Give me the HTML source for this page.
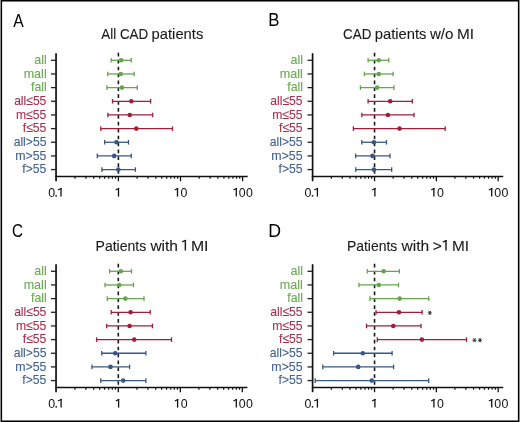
<!DOCTYPE html>
<html><head><meta charset="utf-8"><style>
html,body{margin:0;padding:0;background:#fff;}
body{width:520px;height:422px;position:relative;overflow:hidden;font-family:"Liberation Sans", sans-serif;}
svg{position:absolute;left:0;top:0;will-change:transform;}
svg text{font-family:"Liberation Sans", sans-serif;}
</style></head><body>
<svg width="520" height="422" viewBox="0 0 520 422">
<rect x="0" y="0" width="520" height="422" fill="#fff"/>
<rect x="1" y="0" width="1" height="422" fill="#000"/>
<rect x="518" y="0" width="1" height="422" fill="#000"/>
<rect x="1" y="0" width="518" height="1" fill="#000"/>
<rect x="2" y="1" width="516" height="1" fill="#777"/>
<rect x="1" y="421" width="518" height="1" fill="#000"/>
<rect x="2" y="420" width="516" height="1" fill="#777"/>
<rect x="0" y="0" width="1" height="422" fill="#8c8c8c"/>
<rect x="519" y="0" width="1" height="422" fill="#8c8c8c"/>
<rect x="2" y="2" width="1" height="418" fill="#e2e2e2"/>
<rect x="517" y="2" width="1" height="418" fill="#e2e2e2"/>
<line x1="118.40" y1="52.85" x2="118.40" y2="176.50" stroke="#1a1a1a" stroke-width="1.6" stroke-dasharray="3.7 3.2"/>
<line x1="56.05" y1="53.20" x2="56.05" y2="181.20" stroke="#111" stroke-width="1.7"/>
<line x1="55.25" y1="176.50" x2="247.70" y2="176.50" stroke="#111" stroke-width="1.5"/>
<line x1="50.95" y1="60.30" x2="56.05" y2="60.30" stroke="#222" stroke-width="1.3"/>
<line x1="50.95" y1="73.96" x2="56.05" y2="73.96" stroke="#222" stroke-width="1.3"/>
<line x1="50.95" y1="87.62" x2="56.05" y2="87.62" stroke="#222" stroke-width="1.3"/>
<line x1="50.95" y1="101.28" x2="56.05" y2="101.28" stroke="#222" stroke-width="1.3"/>
<line x1="50.95" y1="114.94" x2="56.05" y2="114.94" stroke="#222" stroke-width="1.3"/>
<line x1="50.95" y1="128.60" x2="56.05" y2="128.60" stroke="#222" stroke-width="1.3"/>
<line x1="50.95" y1="142.26" x2="56.05" y2="142.26" stroke="#222" stroke-width="1.3"/>
<line x1="50.95" y1="155.92" x2="56.05" y2="155.92" stroke="#222" stroke-width="1.3"/>
<line x1="50.95" y1="169.58" x2="56.05" y2="169.58" stroke="#222" stroke-width="1.3"/>
<line x1="74.99" y1="176.50" x2="74.99" y2="178.70" stroke="#111" stroke-width="1.2"/>
<line x1="85.93" y1="176.50" x2="85.93" y2="178.70" stroke="#111" stroke-width="1.2"/>
<line x1="93.69" y1="176.50" x2="93.69" y2="178.70" stroke="#111" stroke-width="1.2"/>
<line x1="99.71" y1="176.50" x2="99.71" y2="178.70" stroke="#111" stroke-width="1.2"/>
<line x1="104.62" y1="176.50" x2="104.62" y2="178.70" stroke="#111" stroke-width="1.2"/>
<line x1="108.78" y1="176.50" x2="108.78" y2="178.70" stroke="#111" stroke-width="1.2"/>
<line x1="112.38" y1="176.50" x2="112.38" y2="178.70" stroke="#111" stroke-width="1.2"/>
<line x1="115.56" y1="176.50" x2="115.56" y2="178.70" stroke="#111" stroke-width="1.2"/>
<line x1="137.09" y1="176.50" x2="137.09" y2="178.70" stroke="#111" stroke-width="1.2"/>
<line x1="148.03" y1="176.50" x2="148.03" y2="178.70" stroke="#111" stroke-width="1.2"/>
<line x1="155.79" y1="176.50" x2="155.79" y2="178.70" stroke="#111" stroke-width="1.2"/>
<line x1="161.81" y1="176.50" x2="161.81" y2="178.70" stroke="#111" stroke-width="1.2"/>
<line x1="166.72" y1="176.50" x2="166.72" y2="178.70" stroke="#111" stroke-width="1.2"/>
<line x1="170.88" y1="176.50" x2="170.88" y2="178.70" stroke="#111" stroke-width="1.2"/>
<line x1="174.48" y1="176.50" x2="174.48" y2="178.70" stroke="#111" stroke-width="1.2"/>
<line x1="177.66" y1="176.50" x2="177.66" y2="178.70" stroke="#111" stroke-width="1.2"/>
<line x1="199.19" y1="176.50" x2="199.19" y2="178.70" stroke="#111" stroke-width="1.2"/>
<line x1="210.13" y1="176.50" x2="210.13" y2="178.70" stroke="#111" stroke-width="1.2"/>
<line x1="217.89" y1="176.50" x2="217.89" y2="178.70" stroke="#111" stroke-width="1.2"/>
<line x1="223.91" y1="176.50" x2="223.91" y2="178.70" stroke="#111" stroke-width="1.2"/>
<line x1="228.82" y1="176.50" x2="228.82" y2="178.70" stroke="#111" stroke-width="1.2"/>
<line x1="232.98" y1="176.50" x2="232.98" y2="178.70" stroke="#111" stroke-width="1.2"/>
<line x1="236.58" y1="176.50" x2="236.58" y2="178.70" stroke="#111" stroke-width="1.2"/>
<line x1="239.76" y1="176.50" x2="239.76" y2="178.70" stroke="#111" stroke-width="1.2"/>
<line x1="118.40" y1="176.50" x2="118.40" y2="181.20" stroke="#111" stroke-width="1.3"/>
<line x1="180.50" y1="176.50" x2="180.50" y2="181.20" stroke="#111" stroke-width="1.3"/>
<line x1="242.60" y1="176.50" x2="242.60" y2="181.20" stroke="#111" stroke-width="1.3"/>
<text x="48.17" y="196.60" font-size="12.4" fill="#111">0</text><rect x="55.35" y="195.10" width="1.5" height="1.5" fill="#111"/><line x1="61.00" y1="188.05" x2="61.00" y2="196.60" stroke="#111" stroke-width="1.3"/><line x1="61.20" y1="188.40" x2="58.30" y2="189.75" stroke="#111" stroke-width="1.15" stroke-linecap="round"/><line x1="118.50" y1="188.05" x2="118.50" y2="196.60" stroke="#111" stroke-width="1.3"/><line x1="118.70" y1="188.40" x2="116.10" y2="189.75" stroke="#111" stroke-width="1.15" stroke-linecap="round"/><line x1="177.50" y1="188.05" x2="177.50" y2="196.60" stroke="#111" stroke-width="1.3"/><line x1="177.70" y1="188.40" x2="175.20" y2="189.75" stroke="#111" stroke-width="1.15" stroke-linecap="round"/><text x="180.57" y="196.60" font-size="12.4" fill="#111">0</text><line x1="236.30" y1="188.05" x2="236.30" y2="196.60" stroke="#111" stroke-width="1.3"/><line x1="236.50" y1="188.40" x2="233.90" y2="189.75" stroke="#111" stroke-width="1.15" stroke-linecap="round"/><text x="238.87" y="196.60" font-size="12.4" fill="#111">0</text><text x="246.02" y="196.60" font-size="12.4" fill="#111">0</text>
<text x="101.30" y="39.20" font-size="14.60" fill="#1a1a1a" textLength="46.93" lengthAdjust="spacingAndGlyphs" stroke="#1a1a1a" stroke-width="0.1">All CAD</text>
<text x="151.59" y="39.20" font-size="14.60" fill="#1a1a1a" textLength="51.71" lengthAdjust="spacingAndGlyphs" stroke="#1a1a1a" stroke-width="0.1">patients</text>
<text x="13.20" y="26.60" font-size="18.10" fill="#000" textLength="10.49" lengthAdjust="spacingAndGlyphs">A</text>
<text x="34.22" y="63.95" font-size="13.10" fill="#6aa952" textLength="12.56" lengthAdjust="spacingAndGlyphs" stroke="#6aa952" stroke-width="0.1">all</text>
<text x="23.63" y="77.61" font-size="13.10" fill="#6aa952" textLength="23.08" lengthAdjust="spacingAndGlyphs" stroke="#6aa952" stroke-width="0.1">mall</text>
<text x="31.01" y="91.27" font-size="13.10" fill="#6aa952" textLength="15.76" lengthAdjust="spacingAndGlyphs" stroke="#6aa952" stroke-width="0.1">fall</text>
<text x="14.14" y="104.93" font-size="13.10" fill="#a5304d" textLength="32.23" lengthAdjust="spacingAndGlyphs" stroke="#a5304d" stroke-width="0.1">all≤55</text>
<text x="15.96" y="118.59" font-size="13.10" fill="#a5304d" textLength="30.44" lengthAdjust="spacingAndGlyphs" stroke="#a5304d" stroke-width="0.1">m≤55</text>
<text x="22.81" y="132.25" font-size="13.10" fill="#a5304d" textLength="23.56" lengthAdjust="spacingAndGlyphs" stroke="#a5304d" stroke-width="0.1">f≤55</text>
<text x="13.64" y="145.91" font-size="13.10" fill="#41618f" textLength="32.79" lengthAdjust="spacingAndGlyphs" stroke="#41618f" stroke-width="0.1">all&gt;55</text>
<text x="15.14" y="159.57" font-size="13.10" fill="#41618f" textLength="31.31" lengthAdjust="spacingAndGlyphs" stroke="#41618f" stroke-width="0.1">m&gt;55</text>
<text x="22.31" y="173.23" font-size="13.10" fill="#41618f" textLength="24.12" lengthAdjust="spacingAndGlyphs" stroke="#41618f" stroke-width="0.1">f&gt;55</text>
<line x1="111.20" y1="60.30" x2="131.30" y2="60.30" stroke="#67a54c" stroke-width="1.3"/>
<line x1="111.20" y1="58.00" x2="111.20" y2="62.60" stroke="#67a54c" stroke-width="1.3"/>
<line x1="131.30" y1="58.00" x2="131.30" y2="62.60" stroke="#67a54c" stroke-width="1.3"/>
<circle cx="121.20" cy="60.30" r="2.3" fill="#67a54c"/>
<line x1="107.70" y1="73.96" x2="134.20" y2="73.96" stroke="#67a54c" stroke-width="1.3"/>
<line x1="107.70" y1="71.66" x2="107.70" y2="76.26" stroke="#67a54c" stroke-width="1.3"/>
<line x1="134.20" y1="71.66" x2="134.20" y2="76.26" stroke="#67a54c" stroke-width="1.3"/>
<circle cx="120.80" cy="73.96" r="2.3" fill="#67a54c"/>
<line x1="106.90" y1="87.62" x2="137.30" y2="87.62" stroke="#67a54c" stroke-width="1.3"/>
<line x1="106.90" y1="85.32" x2="106.90" y2="89.92" stroke="#67a54c" stroke-width="1.3"/>
<line x1="137.30" y1="85.32" x2="137.30" y2="89.92" stroke="#67a54c" stroke-width="1.3"/>
<circle cx="121.90" cy="87.62" r="2.3" fill="#67a54c"/>
<line x1="112.50" y1="101.28" x2="150.60" y2="101.28" stroke="#9e1f3a" stroke-width="1.3"/>
<line x1="112.50" y1="98.98" x2="112.50" y2="103.58" stroke="#9e1f3a" stroke-width="1.3"/>
<line x1="150.60" y1="98.98" x2="150.60" y2="103.58" stroke="#9e1f3a" stroke-width="1.3"/>
<circle cx="131.30" cy="101.28" r="2.3" fill="#9e1f3a"/>
<line x1="107.90" y1="114.94" x2="152.70" y2="114.94" stroke="#9e1f3a" stroke-width="1.3"/>
<line x1="107.90" y1="112.64" x2="107.90" y2="117.24" stroke="#9e1f3a" stroke-width="1.3"/>
<line x1="152.70" y1="112.64" x2="152.70" y2="117.24" stroke="#9e1f3a" stroke-width="1.3"/>
<circle cx="129.80" cy="114.94" r="2.3" fill="#9e1f3a"/>
<line x1="100.80" y1="128.60" x2="172.50" y2="128.60" stroke="#9e1f3a" stroke-width="1.3"/>
<line x1="100.80" y1="126.30" x2="100.80" y2="130.90" stroke="#9e1f3a" stroke-width="1.3"/>
<line x1="172.50" y1="126.30" x2="172.50" y2="130.90" stroke="#9e1f3a" stroke-width="1.3"/>
<circle cx="136.30" cy="128.60" r="2.3" fill="#9e1f3a"/>
<line x1="104.70" y1="142.26" x2="128.50" y2="142.26" stroke="#385686" stroke-width="1.3"/>
<line x1="104.70" y1="139.96" x2="104.70" y2="144.56" stroke="#385686" stroke-width="1.3"/>
<line x1="128.50" y1="139.96" x2="128.50" y2="144.56" stroke="#385686" stroke-width="1.3"/>
<circle cx="116.50" cy="142.26" r="2.3" fill="#385686"/>
<line x1="97.30" y1="155.92" x2="131.20" y2="155.92" stroke="#385686" stroke-width="1.3"/>
<line x1="97.30" y1="153.62" x2="97.30" y2="158.22" stroke="#385686" stroke-width="1.3"/>
<line x1="131.20" y1="153.62" x2="131.20" y2="158.22" stroke="#385686" stroke-width="1.3"/>
<circle cx="114.20" cy="155.92" r="2.3" fill="#385686"/>
<line x1="101.90" y1="169.58" x2="135.40" y2="169.58" stroke="#385686" stroke-width="1.3"/>
<line x1="101.90" y1="167.28" x2="101.90" y2="171.88" stroke="#385686" stroke-width="1.3"/>
<line x1="135.40" y1="167.28" x2="135.40" y2="171.88" stroke="#385686" stroke-width="1.3"/>
<circle cx="118.30" cy="169.58" r="2.3" fill="#385686"/>
<line x1="374.55" y1="52.85" x2="374.55" y2="176.50" stroke="#1a1a1a" stroke-width="1.6" stroke-dasharray="3.7 3.2"/>
<line x1="312.60" y1="53.20" x2="312.60" y2="181.20" stroke="#111" stroke-width="1.7"/>
<line x1="311.80" y1="176.50" x2="503.25" y2="176.50" stroke="#111" stroke-width="1.5"/>
<line x1="307.50" y1="60.30" x2="312.60" y2="60.30" stroke="#222" stroke-width="1.3"/>
<line x1="307.50" y1="73.96" x2="312.60" y2="73.96" stroke="#222" stroke-width="1.3"/>
<line x1="307.50" y1="87.62" x2="312.60" y2="87.62" stroke="#222" stroke-width="1.3"/>
<line x1="307.50" y1="101.28" x2="312.60" y2="101.28" stroke="#222" stroke-width="1.3"/>
<line x1="307.50" y1="114.94" x2="312.60" y2="114.94" stroke="#222" stroke-width="1.3"/>
<line x1="307.50" y1="128.60" x2="312.60" y2="128.60" stroke="#222" stroke-width="1.3"/>
<line x1="307.50" y1="142.26" x2="312.60" y2="142.26" stroke="#222" stroke-width="1.3"/>
<line x1="307.50" y1="155.92" x2="312.60" y2="155.92" stroke="#222" stroke-width="1.3"/>
<line x1="307.50" y1="169.58" x2="312.60" y2="169.58" stroke="#222" stroke-width="1.3"/>
<line x1="331.35" y1="176.50" x2="331.35" y2="178.70" stroke="#111" stroke-width="1.2"/>
<line x1="342.24" y1="176.50" x2="342.24" y2="178.70" stroke="#111" stroke-width="1.2"/>
<line x1="349.96" y1="176.50" x2="349.96" y2="178.70" stroke="#111" stroke-width="1.2"/>
<line x1="355.95" y1="176.50" x2="355.95" y2="178.70" stroke="#111" stroke-width="1.2"/>
<line x1="360.84" y1="176.50" x2="360.84" y2="178.70" stroke="#111" stroke-width="1.2"/>
<line x1="364.98" y1="176.50" x2="364.98" y2="178.70" stroke="#111" stroke-width="1.2"/>
<line x1="368.56" y1="176.50" x2="368.56" y2="178.70" stroke="#111" stroke-width="1.2"/>
<line x1="371.72" y1="176.50" x2="371.72" y2="178.70" stroke="#111" stroke-width="1.2"/>
<line x1="393.15" y1="176.50" x2="393.15" y2="178.70" stroke="#111" stroke-width="1.2"/>
<line x1="404.04" y1="176.50" x2="404.04" y2="178.70" stroke="#111" stroke-width="1.2"/>
<line x1="411.76" y1="176.50" x2="411.76" y2="178.70" stroke="#111" stroke-width="1.2"/>
<line x1="417.75" y1="176.50" x2="417.75" y2="178.70" stroke="#111" stroke-width="1.2"/>
<line x1="422.64" y1="176.50" x2="422.64" y2="178.70" stroke="#111" stroke-width="1.2"/>
<line x1="426.78" y1="176.50" x2="426.78" y2="178.70" stroke="#111" stroke-width="1.2"/>
<line x1="430.36" y1="176.50" x2="430.36" y2="178.70" stroke="#111" stroke-width="1.2"/>
<line x1="433.52" y1="176.50" x2="433.52" y2="178.70" stroke="#111" stroke-width="1.2"/>
<line x1="454.95" y1="176.50" x2="454.95" y2="178.70" stroke="#111" stroke-width="1.2"/>
<line x1="465.84" y1="176.50" x2="465.84" y2="178.70" stroke="#111" stroke-width="1.2"/>
<line x1="473.56" y1="176.50" x2="473.56" y2="178.70" stroke="#111" stroke-width="1.2"/>
<line x1="479.55" y1="176.50" x2="479.55" y2="178.70" stroke="#111" stroke-width="1.2"/>
<line x1="484.44" y1="176.50" x2="484.44" y2="178.70" stroke="#111" stroke-width="1.2"/>
<line x1="488.58" y1="176.50" x2="488.58" y2="178.70" stroke="#111" stroke-width="1.2"/>
<line x1="492.16" y1="176.50" x2="492.16" y2="178.70" stroke="#111" stroke-width="1.2"/>
<line x1="495.32" y1="176.50" x2="495.32" y2="178.70" stroke="#111" stroke-width="1.2"/>
<line x1="374.55" y1="176.50" x2="374.55" y2="181.20" stroke="#111" stroke-width="1.3"/>
<line x1="436.35" y1="176.50" x2="436.35" y2="181.20" stroke="#111" stroke-width="1.3"/>
<line x1="498.15" y1="176.50" x2="498.15" y2="181.20" stroke="#111" stroke-width="1.3"/>
<text x="304.57" y="196.60" font-size="12.4" fill="#111">0</text><rect x="311.75" y="195.10" width="1.5" height="1.5" fill="#111"/><line x1="317.40" y1="188.05" x2="317.40" y2="196.60" stroke="#111" stroke-width="1.3"/><line x1="317.60" y1="188.40" x2="314.70" y2="189.75" stroke="#111" stroke-width="1.15" stroke-linecap="round"/><line x1="374.90" y1="188.05" x2="374.90" y2="196.60" stroke="#111" stroke-width="1.3"/><line x1="375.10" y1="188.40" x2="372.50" y2="189.75" stroke="#111" stroke-width="1.15" stroke-linecap="round"/><line x1="433.90" y1="188.05" x2="433.90" y2="196.60" stroke="#111" stroke-width="1.3"/><line x1="434.10" y1="188.40" x2="431.60" y2="189.75" stroke="#111" stroke-width="1.15" stroke-linecap="round"/><text x="436.97" y="196.60" font-size="12.4" fill="#111">0</text><line x1="491.70" y1="188.05" x2="491.70" y2="196.60" stroke="#111" stroke-width="1.3"/><line x1="491.90" y1="188.40" x2="489.30" y2="189.75" stroke="#111" stroke-width="1.15" stroke-linecap="round"/><text x="494.27" y="196.60" font-size="12.4" fill="#111">0</text><text x="501.42" y="196.60" font-size="12.4" fill="#111">0</text>
<text x="343.08" y="39.00" font-size="14.60" fill="#1a1a1a" textLength="28.29" lengthAdjust="spacingAndGlyphs" stroke="#1a1a1a" stroke-width="0.1">CAD</text>
<text x="374.79" y="39.00" font-size="14.60" fill="#1a1a1a" textLength="51.71" lengthAdjust="spacingAndGlyphs" stroke="#1a1a1a" stroke-width="0.1">patients</text>
<text x="429.90" y="39.00" font-size="14.60" fill="#1a1a1a" textLength="23.52" lengthAdjust="spacingAndGlyphs" stroke="#1a1a1a" stroke-width="0.1">w/o</text>
<text x="456.90" y="39.00" font-size="14.60" fill="#1a1a1a" textLength="17.07" lengthAdjust="spacingAndGlyphs" stroke="#1a1a1a" stroke-width="0.1">MI</text>
<text x="268.18" y="26.20" font-size="18.10" fill="#000" textLength="11.19" lengthAdjust="spacingAndGlyphs">B</text>
<text x="290.42" y="63.95" font-size="13.10" fill="#6aa952" textLength="12.56" lengthAdjust="spacingAndGlyphs" stroke="#6aa952" stroke-width="0.1">all</text>
<text x="279.83" y="77.61" font-size="13.10" fill="#6aa952" textLength="23.08" lengthAdjust="spacingAndGlyphs" stroke="#6aa952" stroke-width="0.1">mall</text>
<text x="287.21" y="91.27" font-size="13.10" fill="#6aa952" textLength="15.76" lengthAdjust="spacingAndGlyphs" stroke="#6aa952" stroke-width="0.1">fall</text>
<text x="270.34" y="104.93" font-size="13.10" fill="#a5304d" textLength="32.23" lengthAdjust="spacingAndGlyphs" stroke="#a5304d" stroke-width="0.1">all≤55</text>
<text x="272.16" y="118.59" font-size="13.10" fill="#a5304d" textLength="30.44" lengthAdjust="spacingAndGlyphs" stroke="#a5304d" stroke-width="0.1">m≤55</text>
<text x="279.01" y="132.25" font-size="13.10" fill="#a5304d" textLength="23.56" lengthAdjust="spacingAndGlyphs" stroke="#a5304d" stroke-width="0.1">f≤55</text>
<text x="269.84" y="145.91" font-size="13.10" fill="#41618f" textLength="32.79" lengthAdjust="spacingAndGlyphs" stroke="#41618f" stroke-width="0.1">all&gt;55</text>
<text x="271.34" y="159.57" font-size="13.10" fill="#41618f" textLength="31.31" lengthAdjust="spacingAndGlyphs" stroke="#41618f" stroke-width="0.1">m&gt;55</text>
<text x="278.51" y="173.23" font-size="13.10" fill="#41618f" textLength="24.12" lengthAdjust="spacingAndGlyphs" stroke="#41618f" stroke-width="0.1">f&gt;55</text>
<line x1="368.10" y1="60.30" x2="388.80" y2="60.30" stroke="#67a54c" stroke-width="1.3"/>
<line x1="368.10" y1="58.00" x2="368.10" y2="62.60" stroke="#67a54c" stroke-width="1.3"/>
<line x1="388.80" y1="58.00" x2="388.80" y2="62.60" stroke="#67a54c" stroke-width="1.3"/>
<circle cx="378.70" cy="60.30" r="2.3" fill="#67a54c"/>
<line x1="364.40" y1="73.96" x2="393.10" y2="73.96" stroke="#67a54c" stroke-width="1.3"/>
<line x1="364.40" y1="71.66" x2="364.40" y2="76.26" stroke="#67a54c" stroke-width="1.3"/>
<line x1="393.10" y1="71.66" x2="393.10" y2="76.26" stroke="#67a54c" stroke-width="1.3"/>
<circle cx="378.80" cy="73.96" r="2.3" fill="#67a54c"/>
<line x1="360.40" y1="87.62" x2="394.00" y2="87.62" stroke="#67a54c" stroke-width="1.3"/>
<line x1="360.40" y1="85.32" x2="360.40" y2="89.92" stroke="#67a54c" stroke-width="1.3"/>
<line x1="394.00" y1="85.32" x2="394.00" y2="89.92" stroke="#67a54c" stroke-width="1.3"/>
<circle cx="377.10" cy="87.62" r="2.3" fill="#67a54c"/>
<line x1="368.10" y1="101.28" x2="412.30" y2="101.28" stroke="#9e1f3a" stroke-width="1.3"/>
<line x1="368.10" y1="98.98" x2="368.10" y2="103.58" stroke="#9e1f3a" stroke-width="1.3"/>
<line x1="412.30" y1="98.98" x2="412.30" y2="103.58" stroke="#9e1f3a" stroke-width="1.3"/>
<circle cx="390.20" cy="101.28" r="2.3" fill="#9e1f3a"/>
<line x1="361.80" y1="114.94" x2="414.00" y2="114.94" stroke="#9e1f3a" stroke-width="1.3"/>
<line x1="361.80" y1="112.64" x2="361.80" y2="117.24" stroke="#9e1f3a" stroke-width="1.3"/>
<line x1="414.00" y1="112.64" x2="414.00" y2="117.24" stroke="#9e1f3a" stroke-width="1.3"/>
<circle cx="387.90" cy="114.94" r="2.3" fill="#9e1f3a"/>
<line x1="353.40" y1="128.60" x2="445.20" y2="128.60" stroke="#9e1f3a" stroke-width="1.3"/>
<line x1="353.40" y1="126.30" x2="353.40" y2="130.90" stroke="#9e1f3a" stroke-width="1.3"/>
<line x1="445.20" y1="126.30" x2="445.20" y2="130.90" stroke="#9e1f3a" stroke-width="1.3"/>
<circle cx="399.50" cy="128.60" r="2.3" fill="#9e1f3a"/>
<line x1="361.80" y1="142.26" x2="386.50" y2="142.26" stroke="#385686" stroke-width="1.3"/>
<line x1="361.80" y1="139.96" x2="361.80" y2="144.56" stroke="#385686" stroke-width="1.3"/>
<line x1="386.50" y1="139.96" x2="386.50" y2="144.56" stroke="#385686" stroke-width="1.3"/>
<circle cx="373.90" cy="142.26" r="2.3" fill="#385686"/>
<line x1="355.60" y1="155.92" x2="390.00" y2="155.92" stroke="#385686" stroke-width="1.3"/>
<line x1="355.60" y1="153.62" x2="355.60" y2="158.22" stroke="#385686" stroke-width="1.3"/>
<line x1="390.00" y1="153.62" x2="390.00" y2="158.22" stroke="#385686" stroke-width="1.3"/>
<circle cx="372.50" cy="155.92" r="2.3" fill="#385686"/>
<line x1="355.80" y1="169.58" x2="391.70" y2="169.58" stroke="#385686" stroke-width="1.3"/>
<line x1="355.80" y1="167.28" x2="355.80" y2="171.88" stroke="#385686" stroke-width="1.3"/>
<line x1="391.70" y1="167.28" x2="391.70" y2="171.88" stroke="#385686" stroke-width="1.3"/>
<circle cx="373.90" cy="169.58" r="2.3" fill="#385686"/>
<line x1="118.30" y1="263.85" x2="118.30" y2="387.50" stroke="#1a1a1a" stroke-width="1.6" stroke-dasharray="3.7 3.2"/>
<line x1="56.05" y1="264.20" x2="56.05" y2="392.20" stroke="#111" stroke-width="1.7"/>
<line x1="55.25" y1="387.50" x2="247.40" y2="387.50" stroke="#111" stroke-width="1.5"/>
<line x1="50.95" y1="271.30" x2="56.05" y2="271.30" stroke="#222" stroke-width="1.3"/>
<line x1="50.95" y1="284.96" x2="56.05" y2="284.96" stroke="#222" stroke-width="1.3"/>
<line x1="50.95" y1="298.62" x2="56.05" y2="298.62" stroke="#222" stroke-width="1.3"/>
<line x1="50.95" y1="312.28" x2="56.05" y2="312.28" stroke="#222" stroke-width="1.3"/>
<line x1="50.95" y1="325.94" x2="56.05" y2="325.94" stroke="#222" stroke-width="1.3"/>
<line x1="50.95" y1="339.60" x2="56.05" y2="339.60" stroke="#222" stroke-width="1.3"/>
<line x1="50.95" y1="353.26" x2="56.05" y2="353.26" stroke="#222" stroke-width="1.3"/>
<line x1="50.95" y1="366.92" x2="56.05" y2="366.92" stroke="#222" stroke-width="1.3"/>
<line x1="50.95" y1="380.58" x2="56.05" y2="380.58" stroke="#222" stroke-width="1.3"/>
<line x1="74.96" y1="387.50" x2="74.96" y2="389.70" stroke="#111" stroke-width="1.2"/>
<line x1="85.88" y1="387.50" x2="85.88" y2="389.70" stroke="#111" stroke-width="1.2"/>
<line x1="93.63" y1="387.50" x2="93.63" y2="389.70" stroke="#111" stroke-width="1.2"/>
<line x1="99.64" y1="387.50" x2="99.64" y2="389.70" stroke="#111" stroke-width="1.2"/>
<line x1="104.55" y1="387.50" x2="104.55" y2="389.70" stroke="#111" stroke-width="1.2"/>
<line x1="108.70" y1="387.50" x2="108.70" y2="389.70" stroke="#111" stroke-width="1.2"/>
<line x1="112.29" y1="387.50" x2="112.29" y2="389.70" stroke="#111" stroke-width="1.2"/>
<line x1="115.46" y1="387.50" x2="115.46" y2="389.70" stroke="#111" stroke-width="1.2"/>
<line x1="136.96" y1="387.50" x2="136.96" y2="389.70" stroke="#111" stroke-width="1.2"/>
<line x1="147.88" y1="387.50" x2="147.88" y2="389.70" stroke="#111" stroke-width="1.2"/>
<line x1="155.63" y1="387.50" x2="155.63" y2="389.70" stroke="#111" stroke-width="1.2"/>
<line x1="161.64" y1="387.50" x2="161.64" y2="389.70" stroke="#111" stroke-width="1.2"/>
<line x1="166.55" y1="387.50" x2="166.55" y2="389.70" stroke="#111" stroke-width="1.2"/>
<line x1="170.70" y1="387.50" x2="170.70" y2="389.70" stroke="#111" stroke-width="1.2"/>
<line x1="174.29" y1="387.50" x2="174.29" y2="389.70" stroke="#111" stroke-width="1.2"/>
<line x1="177.46" y1="387.50" x2="177.46" y2="389.70" stroke="#111" stroke-width="1.2"/>
<line x1="198.96" y1="387.50" x2="198.96" y2="389.70" stroke="#111" stroke-width="1.2"/>
<line x1="209.88" y1="387.50" x2="209.88" y2="389.70" stroke="#111" stroke-width="1.2"/>
<line x1="217.63" y1="387.50" x2="217.63" y2="389.70" stroke="#111" stroke-width="1.2"/>
<line x1="223.64" y1="387.50" x2="223.64" y2="389.70" stroke="#111" stroke-width="1.2"/>
<line x1="228.55" y1="387.50" x2="228.55" y2="389.70" stroke="#111" stroke-width="1.2"/>
<line x1="232.70" y1="387.50" x2="232.70" y2="389.70" stroke="#111" stroke-width="1.2"/>
<line x1="236.29" y1="387.50" x2="236.29" y2="389.70" stroke="#111" stroke-width="1.2"/>
<line x1="239.46" y1="387.50" x2="239.46" y2="389.70" stroke="#111" stroke-width="1.2"/>
<line x1="118.30" y1="387.50" x2="118.30" y2="392.20" stroke="#111" stroke-width="1.3"/>
<line x1="180.30" y1="387.50" x2="180.30" y2="392.20" stroke="#111" stroke-width="1.3"/>
<line x1="242.30" y1="387.50" x2="242.30" y2="392.20" stroke="#111" stroke-width="1.3"/>
<text x="48.27" y="407.60" font-size="12.4" fill="#111">0</text><rect x="55.45" y="406.10" width="1.5" height="1.5" fill="#111"/><line x1="61.10" y1="399.05" x2="61.10" y2="407.60" stroke="#111" stroke-width="1.3"/><line x1="61.30" y1="399.40" x2="58.40" y2="400.75" stroke="#111" stroke-width="1.15" stroke-linecap="round"/><line x1="118.60" y1="399.05" x2="118.60" y2="407.60" stroke="#111" stroke-width="1.3"/><line x1="118.80" y1="399.40" x2="116.20" y2="400.75" stroke="#111" stroke-width="1.15" stroke-linecap="round"/><line x1="177.60" y1="399.05" x2="177.60" y2="407.60" stroke="#111" stroke-width="1.3"/><line x1="177.80" y1="399.40" x2="175.30" y2="400.75" stroke="#111" stroke-width="1.15" stroke-linecap="round"/><text x="180.67" y="407.60" font-size="12.4" fill="#111">0</text><line x1="236.30" y1="399.05" x2="236.30" y2="407.60" stroke="#111" stroke-width="1.3"/><line x1="236.50" y1="399.40" x2="233.90" y2="400.75" stroke="#111" stroke-width="1.15" stroke-linecap="round"/><text x="238.87" y="407.60" font-size="12.4" fill="#111">0</text><text x="246.02" y="407.60" font-size="12.4" fill="#111">0</text>
<text x="95.51" y="250.50" font-size="14.60" fill="#1a1a1a" textLength="50.80" lengthAdjust="spacingAndGlyphs" stroke="#1a1a1a" stroke-width="0.1">Patients</text>
<text x="150.40" y="250.50" font-size="14.60" fill="#1a1a1a" textLength="27.58" lengthAdjust="spacingAndGlyphs" stroke="#1a1a1a" stroke-width="0.1">with</text>
<text x="190.96" y="250.50" font-size="14.60" fill="#1a1a1a" textLength="17.54" lengthAdjust="spacingAndGlyphs" stroke="#1a1a1a" stroke-width="0.1">MI</text>
<line x1="185.35" y1="240.10" x2="185.35" y2="250.50" stroke="#1a1a1a" stroke-width="1.45"/><line x1="185.55" y1="240.45" x2="182.70" y2="241.70" stroke="#1a1a1a" stroke-width="1.3" stroke-linecap="round"/>
<text x="11.98" y="236.60" font-size="18.10" fill="#000" textLength="10.99" lengthAdjust="spacingAndGlyphs">C</text>
<text x="34.22" y="274.95" font-size="13.10" fill="#6aa952" textLength="12.56" lengthAdjust="spacingAndGlyphs" stroke="#6aa952" stroke-width="0.1">all</text>
<text x="23.63" y="288.61" font-size="13.10" fill="#6aa952" textLength="23.08" lengthAdjust="spacingAndGlyphs" stroke="#6aa952" stroke-width="0.1">mall</text>
<text x="31.01" y="302.27" font-size="13.10" fill="#6aa952" textLength="15.76" lengthAdjust="spacingAndGlyphs" stroke="#6aa952" stroke-width="0.1">fall</text>
<text x="14.14" y="315.93" font-size="13.10" fill="#a5304d" textLength="32.23" lengthAdjust="spacingAndGlyphs" stroke="#a5304d" stroke-width="0.1">all≤55</text>
<text x="15.96" y="329.59" font-size="13.10" fill="#a5304d" textLength="30.44" lengthAdjust="spacingAndGlyphs" stroke="#a5304d" stroke-width="0.1">m≤55</text>
<text x="22.81" y="343.25" font-size="13.10" fill="#a5304d" textLength="23.56" lengthAdjust="spacingAndGlyphs" stroke="#a5304d" stroke-width="0.1">f≤55</text>
<text x="13.64" y="356.91" font-size="13.10" fill="#41618f" textLength="32.79" lengthAdjust="spacingAndGlyphs" stroke="#41618f" stroke-width="0.1">all&gt;55</text>
<text x="15.14" y="370.57" font-size="13.10" fill="#41618f" textLength="31.31" lengthAdjust="spacingAndGlyphs" stroke="#41618f" stroke-width="0.1">m&gt;55</text>
<text x="22.31" y="384.23" font-size="13.10" fill="#41618f" textLength="24.12" lengthAdjust="spacingAndGlyphs" stroke="#41618f" stroke-width="0.1">f&gt;55</text>
<line x1="109.60" y1="271.30" x2="131.50" y2="271.30" stroke="#67a54c" stroke-width="1.3"/>
<line x1="109.60" y1="269.00" x2="109.60" y2="273.60" stroke="#67a54c" stroke-width="1.3"/>
<line x1="131.50" y1="269.00" x2="131.50" y2="273.60" stroke="#67a54c" stroke-width="1.3"/>
<circle cx="120.80" cy="271.30" r="2.3" fill="#67a54c"/>
<line x1="105.00" y1="284.96" x2="133.50" y2="284.96" stroke="#67a54c" stroke-width="1.3"/>
<line x1="105.00" y1="282.66" x2="105.00" y2="287.26" stroke="#67a54c" stroke-width="1.3"/>
<line x1="133.50" y1="282.66" x2="133.50" y2="287.26" stroke="#67a54c" stroke-width="1.3"/>
<circle cx="119.20" cy="284.96" r="2.3" fill="#67a54c"/>
<line x1="107.30" y1="298.62" x2="144.00" y2="298.62" stroke="#67a54c" stroke-width="1.3"/>
<line x1="107.30" y1="296.32" x2="107.30" y2="300.92" stroke="#67a54c" stroke-width="1.3"/>
<line x1="144.00" y1="296.32" x2="144.00" y2="300.92" stroke="#67a54c" stroke-width="1.3"/>
<circle cx="125.40" cy="298.62" r="2.3" fill="#67a54c"/>
<line x1="111.20" y1="312.28" x2="150.20" y2="312.28" stroke="#9e1f3a" stroke-width="1.3"/>
<line x1="111.20" y1="309.98" x2="111.20" y2="314.58" stroke="#9e1f3a" stroke-width="1.3"/>
<line x1="150.20" y1="309.98" x2="150.20" y2="314.58" stroke="#9e1f3a" stroke-width="1.3"/>
<circle cx="130.60" cy="312.28" r="2.3" fill="#9e1f3a"/>
<line x1="106.70" y1="325.94" x2="152.40" y2="325.94" stroke="#9e1f3a" stroke-width="1.3"/>
<line x1="106.70" y1="323.64" x2="106.70" y2="328.24" stroke="#9e1f3a" stroke-width="1.3"/>
<line x1="152.40" y1="323.64" x2="152.40" y2="328.24" stroke="#9e1f3a" stroke-width="1.3"/>
<circle cx="129.60" cy="325.94" r="2.3" fill="#9e1f3a"/>
<line x1="96.60" y1="339.60" x2="171.50" y2="339.60" stroke="#9e1f3a" stroke-width="1.3"/>
<line x1="96.60" y1="337.30" x2="96.60" y2="341.90" stroke="#9e1f3a" stroke-width="1.3"/>
<line x1="171.50" y1="337.30" x2="171.50" y2="341.90" stroke="#9e1f3a" stroke-width="1.3"/>
<circle cx="134.20" cy="339.60" r="2.3" fill="#9e1f3a"/>
<line x1="101.70" y1="353.26" x2="145.90" y2="353.26" stroke="#385686" stroke-width="1.3"/>
<line x1="101.70" y1="350.96" x2="101.70" y2="355.56" stroke="#385686" stroke-width="1.3"/>
<line x1="145.90" y1="350.96" x2="145.90" y2="355.56" stroke="#385686" stroke-width="1.3"/>
<circle cx="115.20" cy="353.26" r="2.3" fill="#385686"/>
<line x1="91.90" y1="366.92" x2="129.60" y2="366.92" stroke="#385686" stroke-width="1.3"/>
<line x1="91.90" y1="364.62" x2="91.90" y2="369.22" stroke="#385686" stroke-width="1.3"/>
<line x1="129.60" y1="364.62" x2="129.60" y2="369.22" stroke="#385686" stroke-width="1.3"/>
<circle cx="110.50" cy="366.92" r="2.3" fill="#385686"/>
<line x1="100.80" y1="380.58" x2="145.90" y2="380.58" stroke="#385686" stroke-width="1.3"/>
<line x1="100.80" y1="378.28" x2="100.80" y2="382.88" stroke="#385686" stroke-width="1.3"/>
<line x1="145.90" y1="378.28" x2="145.90" y2="382.88" stroke="#385686" stroke-width="1.3"/>
<circle cx="123.20" cy="380.58" r="2.3" fill="#385686"/>
<line x1="374.55" y1="263.85" x2="374.55" y2="387.50" stroke="#1a1a1a" stroke-width="1.6" stroke-dasharray="3.7 3.2"/>
<line x1="312.60" y1="264.20" x2="312.60" y2="392.20" stroke="#111" stroke-width="1.7"/>
<line x1="311.80" y1="387.50" x2="503.25" y2="387.50" stroke="#111" stroke-width="1.5"/>
<line x1="307.50" y1="271.30" x2="312.60" y2="271.30" stroke="#222" stroke-width="1.3"/>
<line x1="307.50" y1="284.96" x2="312.60" y2="284.96" stroke="#222" stroke-width="1.3"/>
<line x1="307.50" y1="298.62" x2="312.60" y2="298.62" stroke="#222" stroke-width="1.3"/>
<line x1="307.50" y1="312.28" x2="312.60" y2="312.28" stroke="#222" stroke-width="1.3"/>
<line x1="307.50" y1="325.94" x2="312.60" y2="325.94" stroke="#222" stroke-width="1.3"/>
<line x1="307.50" y1="339.60" x2="312.60" y2="339.60" stroke="#222" stroke-width="1.3"/>
<line x1="307.50" y1="353.26" x2="312.60" y2="353.26" stroke="#222" stroke-width="1.3"/>
<line x1="307.50" y1="366.92" x2="312.60" y2="366.92" stroke="#222" stroke-width="1.3"/>
<line x1="307.50" y1="380.58" x2="312.60" y2="380.58" stroke="#222" stroke-width="1.3"/>
<line x1="331.35" y1="387.50" x2="331.35" y2="389.70" stroke="#111" stroke-width="1.2"/>
<line x1="342.24" y1="387.50" x2="342.24" y2="389.70" stroke="#111" stroke-width="1.2"/>
<line x1="349.96" y1="387.50" x2="349.96" y2="389.70" stroke="#111" stroke-width="1.2"/>
<line x1="355.95" y1="387.50" x2="355.95" y2="389.70" stroke="#111" stroke-width="1.2"/>
<line x1="360.84" y1="387.50" x2="360.84" y2="389.70" stroke="#111" stroke-width="1.2"/>
<line x1="364.98" y1="387.50" x2="364.98" y2="389.70" stroke="#111" stroke-width="1.2"/>
<line x1="368.56" y1="387.50" x2="368.56" y2="389.70" stroke="#111" stroke-width="1.2"/>
<line x1="371.72" y1="387.50" x2="371.72" y2="389.70" stroke="#111" stroke-width="1.2"/>
<line x1="393.15" y1="387.50" x2="393.15" y2="389.70" stroke="#111" stroke-width="1.2"/>
<line x1="404.04" y1="387.50" x2="404.04" y2="389.70" stroke="#111" stroke-width="1.2"/>
<line x1="411.76" y1="387.50" x2="411.76" y2="389.70" stroke="#111" stroke-width="1.2"/>
<line x1="417.75" y1="387.50" x2="417.75" y2="389.70" stroke="#111" stroke-width="1.2"/>
<line x1="422.64" y1="387.50" x2="422.64" y2="389.70" stroke="#111" stroke-width="1.2"/>
<line x1="426.78" y1="387.50" x2="426.78" y2="389.70" stroke="#111" stroke-width="1.2"/>
<line x1="430.36" y1="387.50" x2="430.36" y2="389.70" stroke="#111" stroke-width="1.2"/>
<line x1="433.52" y1="387.50" x2="433.52" y2="389.70" stroke="#111" stroke-width="1.2"/>
<line x1="454.95" y1="387.50" x2="454.95" y2="389.70" stroke="#111" stroke-width="1.2"/>
<line x1="465.84" y1="387.50" x2="465.84" y2="389.70" stroke="#111" stroke-width="1.2"/>
<line x1="473.56" y1="387.50" x2="473.56" y2="389.70" stroke="#111" stroke-width="1.2"/>
<line x1="479.55" y1="387.50" x2="479.55" y2="389.70" stroke="#111" stroke-width="1.2"/>
<line x1="484.44" y1="387.50" x2="484.44" y2="389.70" stroke="#111" stroke-width="1.2"/>
<line x1="488.58" y1="387.50" x2="488.58" y2="389.70" stroke="#111" stroke-width="1.2"/>
<line x1="492.16" y1="387.50" x2="492.16" y2="389.70" stroke="#111" stroke-width="1.2"/>
<line x1="495.32" y1="387.50" x2="495.32" y2="389.70" stroke="#111" stroke-width="1.2"/>
<line x1="374.55" y1="387.50" x2="374.55" y2="392.20" stroke="#111" stroke-width="1.3"/>
<line x1="436.35" y1="387.50" x2="436.35" y2="392.20" stroke="#111" stroke-width="1.3"/>
<line x1="498.15" y1="387.50" x2="498.15" y2="392.20" stroke="#111" stroke-width="1.3"/>
<text x="304.57" y="407.60" font-size="12.4" fill="#111">0</text><rect x="311.75" y="406.10" width="1.5" height="1.5" fill="#111"/><line x1="317.40" y1="399.05" x2="317.40" y2="407.60" stroke="#111" stroke-width="1.3"/><line x1="317.60" y1="399.40" x2="314.70" y2="400.75" stroke="#111" stroke-width="1.15" stroke-linecap="round"/><line x1="374.90" y1="399.05" x2="374.90" y2="407.60" stroke="#111" stroke-width="1.3"/><line x1="375.10" y1="399.40" x2="372.50" y2="400.75" stroke="#111" stroke-width="1.15" stroke-linecap="round"/><line x1="433.90" y1="399.05" x2="433.90" y2="407.60" stroke="#111" stroke-width="1.3"/><line x1="434.10" y1="399.40" x2="431.60" y2="400.75" stroke="#111" stroke-width="1.15" stroke-linecap="round"/><text x="436.97" y="407.60" font-size="12.4" fill="#111">0</text><line x1="491.70" y1="399.05" x2="491.70" y2="407.60" stroke="#111" stroke-width="1.3"/><line x1="491.90" y1="399.40" x2="489.30" y2="400.75" stroke="#111" stroke-width="1.15" stroke-linecap="round"/><text x="494.27" y="407.60" font-size="12.4" fill="#111">0</text><text x="501.42" y="407.60" font-size="12.4" fill="#111">0</text>
<text x="346.92" y="250.60" font-size="14.60" fill="#1a1a1a" textLength="50.39" lengthAdjust="spacingAndGlyphs" stroke="#1a1a1a" stroke-width="0.1">Patients</text>
<text x="401.60" y="250.60" font-size="14.60" fill="#1a1a1a" textLength="27.68" lengthAdjust="spacingAndGlyphs" stroke="#1a1a1a" stroke-width="0.1">with</text>
<text x="432.68" y="250.60" font-size="14.60" fill="#1a1a1a" textLength="9.13" lengthAdjust="spacingAndGlyphs" stroke="#1a1a1a" stroke-width="0.1">&gt;</text>
<text x="451.90" y="250.60" font-size="14.60" fill="#1a1a1a" textLength="17.07" lengthAdjust="spacingAndGlyphs" stroke="#1a1a1a" stroke-width="0.1">MI</text>
<line x1="446.00" y1="240.20" x2="446.00" y2="250.60" stroke="#1a1a1a" stroke-width="1.45"/><line x1="446.20" y1="240.55" x2="443.20" y2="241.80" stroke="#1a1a1a" stroke-width="1.3" stroke-linecap="round"/>
<text x="268.30" y="236.70" font-size="18.10" fill="#000" textLength="12.80" lengthAdjust="spacingAndGlyphs">D</text>
<text x="290.42" y="274.95" font-size="13.10" fill="#6aa952" textLength="12.56" lengthAdjust="spacingAndGlyphs" stroke="#6aa952" stroke-width="0.1">all</text>
<text x="279.83" y="288.61" font-size="13.10" fill="#6aa952" textLength="23.08" lengthAdjust="spacingAndGlyphs" stroke="#6aa952" stroke-width="0.1">mall</text>
<text x="287.21" y="302.27" font-size="13.10" fill="#6aa952" textLength="15.76" lengthAdjust="spacingAndGlyphs" stroke="#6aa952" stroke-width="0.1">fall</text>
<text x="270.34" y="315.93" font-size="13.10" fill="#a5304d" textLength="32.23" lengthAdjust="spacingAndGlyphs" stroke="#a5304d" stroke-width="0.1">all≤55</text>
<text x="272.16" y="329.59" font-size="13.10" fill="#a5304d" textLength="30.44" lengthAdjust="spacingAndGlyphs" stroke="#a5304d" stroke-width="0.1">m≤55</text>
<text x="279.01" y="343.25" font-size="13.10" fill="#a5304d" textLength="23.56" lengthAdjust="spacingAndGlyphs" stroke="#a5304d" stroke-width="0.1">f≤55</text>
<text x="269.84" y="356.91" font-size="13.10" fill="#41618f" textLength="32.79" lengthAdjust="spacingAndGlyphs" stroke="#41618f" stroke-width="0.1">all&gt;55</text>
<text x="271.34" y="370.57" font-size="13.10" fill="#41618f" textLength="31.31" lengthAdjust="spacingAndGlyphs" stroke="#41618f" stroke-width="0.1">m&gt;55</text>
<text x="278.51" y="384.23" font-size="13.10" fill="#41618f" textLength="24.12" lengthAdjust="spacingAndGlyphs" stroke="#41618f" stroke-width="0.1">f&gt;55</text>
<line x1="367.30" y1="271.30" x2="399.40" y2="271.30" stroke="#67a54c" stroke-width="1.3"/>
<line x1="367.30" y1="269.00" x2="367.30" y2="273.60" stroke="#67a54c" stroke-width="1.3"/>
<line x1="399.40" y1="269.00" x2="399.40" y2="273.60" stroke="#67a54c" stroke-width="1.3"/>
<circle cx="383.70" cy="271.30" r="2.3" fill="#67a54c"/>
<line x1="359.00" y1="284.96" x2="398.50" y2="284.96" stroke="#67a54c" stroke-width="1.3"/>
<line x1="359.00" y1="282.66" x2="359.00" y2="287.26" stroke="#67a54c" stroke-width="1.3"/>
<line x1="398.50" y1="282.66" x2="398.50" y2="287.26" stroke="#67a54c" stroke-width="1.3"/>
<circle cx="378.80" cy="284.96" r="2.3" fill="#67a54c"/>
<line x1="370.00" y1="298.62" x2="428.80" y2="298.62" stroke="#67a54c" stroke-width="1.3"/>
<line x1="370.00" y1="296.32" x2="370.00" y2="300.92" stroke="#67a54c" stroke-width="1.3"/>
<line x1="428.80" y1="296.32" x2="428.80" y2="300.92" stroke="#67a54c" stroke-width="1.3"/>
<circle cx="399.60" cy="298.62" r="2.3" fill="#67a54c"/>
<line x1="376.00" y1="312.28" x2="422.10" y2="312.28" stroke="#9e1f3a" stroke-width="1.3"/>
<line x1="376.00" y1="309.98" x2="376.00" y2="314.58" stroke="#9e1f3a" stroke-width="1.3"/>
<line x1="422.10" y1="309.98" x2="422.10" y2="314.58" stroke="#9e1f3a" stroke-width="1.3"/>
<circle cx="399.00" cy="312.28" r="2.3" fill="#9e1f3a"/>
<line x1="366.50" y1="325.94" x2="421.00" y2="325.94" stroke="#9e1f3a" stroke-width="1.3"/>
<line x1="366.50" y1="323.64" x2="366.50" y2="328.24" stroke="#9e1f3a" stroke-width="1.3"/>
<line x1="421.00" y1="323.64" x2="421.00" y2="328.24" stroke="#9e1f3a" stroke-width="1.3"/>
<circle cx="393.30" cy="325.94" r="2.3" fill="#9e1f3a"/>
<line x1="377.30" y1="339.60" x2="466.50" y2="339.60" stroke="#9e1f3a" stroke-width="1.3"/>
<line x1="377.30" y1="337.30" x2="377.30" y2="341.90" stroke="#9e1f3a" stroke-width="1.3"/>
<line x1="466.50" y1="337.30" x2="466.50" y2="341.90" stroke="#9e1f3a" stroke-width="1.3"/>
<circle cx="421.90" cy="339.60" r="2.3" fill="#9e1f3a"/>
<line x1="333.60" y1="353.26" x2="392.10" y2="353.26" stroke="#385686" stroke-width="1.3"/>
<line x1="333.60" y1="350.96" x2="333.60" y2="355.56" stroke="#385686" stroke-width="1.3"/>
<line x1="392.10" y1="350.96" x2="392.10" y2="355.56" stroke="#385686" stroke-width="1.3"/>
<circle cx="362.80" cy="353.26" r="2.3" fill="#385686"/>
<line x1="322.80" y1="366.92" x2="393.60" y2="366.92" stroke="#385686" stroke-width="1.3"/>
<line x1="322.80" y1="364.62" x2="322.80" y2="369.22" stroke="#385686" stroke-width="1.3"/>
<line x1="393.60" y1="364.62" x2="393.60" y2="369.22" stroke="#385686" stroke-width="1.3"/>
<circle cx="358.20" cy="366.92" r="2.3" fill="#385686"/>
<line x1="315.20" y1="380.58" x2="428.70" y2="380.58" stroke="#385686" stroke-width="1.3"/>
<line x1="315.20" y1="378.28" x2="315.20" y2="382.88" stroke="#385686" stroke-width="1.3"/>
<line x1="428.70" y1="378.28" x2="428.70" y2="382.88" stroke="#385686" stroke-width="1.3"/>
<circle cx="371.80" cy="380.58" r="2.3" fill="#385686"/>
<line x1="427.80" y1="312.88" x2="431.80" y2="312.88" stroke="#333" stroke-width="1.0"/>
<line x1="428.80" y1="310.89" x2="430.80" y2="314.87" stroke="#333" stroke-width="1.0"/>
<line x1="430.80" y1="310.89" x2="428.80" y2="314.87" stroke="#333" stroke-width="1.0"/>
<line x1="472.50" y1="340.20" x2="476.50" y2="340.20" stroke="#333" stroke-width="1.0"/>
<line x1="473.50" y1="338.21" x2="475.50" y2="342.19" stroke="#333" stroke-width="1.0"/>
<line x1="475.50" y1="338.21" x2="473.50" y2="342.19" stroke="#333" stroke-width="1.0"/>
<line x1="478.00" y1="340.20" x2="482.00" y2="340.20" stroke="#333" stroke-width="1.0"/>
<line x1="479.00" y1="338.21" x2="481.00" y2="342.19" stroke="#333" stroke-width="1.0"/>
<line x1="481.00" y1="338.21" x2="479.00" y2="342.19" stroke="#333" stroke-width="1.0"/>
</svg>
</body></html>
